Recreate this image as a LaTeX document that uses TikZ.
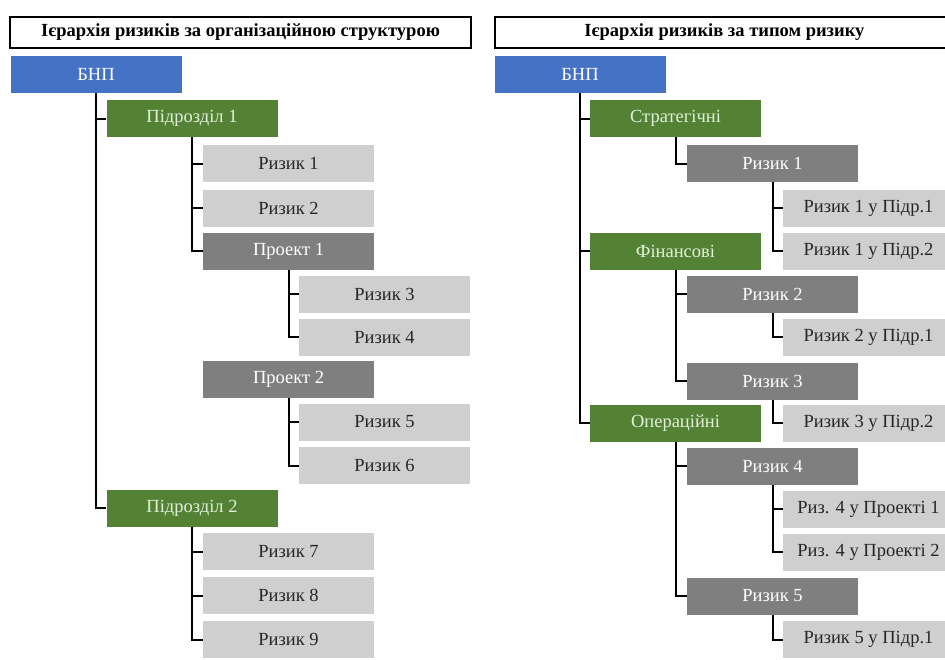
\documentclass[tikz,border=0pt]{standalone}
\usepackage{fontspec}
\setmainfont{Liberation Serif}
\definecolor{cblue}{HTML}{4472C4}
\definecolor{cgreen}{HTML}{548235}
\definecolor{cdark}{HTML}{7F7F7F}
\definecolor{clight}{HTML}{CFCFCF}
\definecolor{cgreentext}{HTML}{E2F0D9}
\tikzset{
  box/.style={rectangle, minimum width=171pt, minimum height=37pt, inner sep=0pt, anchor=center, font=\fontsize{18.5}{20}\selectfont},
  lvblue/.style={box, fill=cblue, text=white},
  lvgreen/.style={box, fill=cgreen, text=cgreentext},
  lvdark/.style={box, fill=cdark, text=white},
  lvlight/.style={box, fill=clight, text=black!85},
  titlebox/.style={rectangle, draw=black, line width=1.3pt, minimum height=31pt, inner sep=0pt, anchor=center},
  titletext/.style={font=\bfseries\fontsize{18.5}{20}\selectfont},
  link/.style={draw=black, line width=2pt},
}
\begin{document}
\begin{tikzpicture}[x=1pt,y=-1pt]
\useasboundingbox (0,0) rectangle (945,659);
\clip (0,0) rectangle (945,659);
% titles
\node[titlebox, titletext, minimum width=461pt] (t1) at (240.5,32.5) {Ієрархія ризиків за організаційною структурою};
\node[titlebox, minimum width=470pt] (t2) at (730,32.5) {};
\node[titletext] (t2t) at (724.5,32.5) {Ієрархія ризиків за типом ризику};
% left tree
\node[lvblue] (a0) at (96,74.5) {БНП};
\node[lvgreen] (a1) at (192,118.5) {Підрозділ 1};
\node[lvlight] (a2) at (288.5,163.5) {Ризик 1};
\node[lvlight] (a3) at (288.5,208) {Ризик 2};
\node[lvdark] (a4) at (288.5,251) {Проект 1};
\node[lvlight] (a5) at (384.5,294) {Ризик 3};
\node[lvlight] (a6) at (384.5,337) {Ризик 4};
\node[lvdark] (a7) at (288.5,379) {Проект 2};
\node[lvlight] (a8) at (384.5,422) {Ризик 5};
\node[lvlight] (a9) at (384.5,465.5) {Ризик 6};
\node[lvgreen] (a10) at (192,508) {Підрозділ 2};
\node[lvlight] (a11) at (288.5,551.5) {Ризик 7};
\node[lvlight] (a12) at (288.5,595.5) {Ризик 8};
\node[lvlight] (a13) at (288.5,639.5) {Ризик 9};
% right tree
\node[lvblue] (b0) at (580,74.5) {БНП};
\node[lvgreen] (b1) at (675.5,118.5) {Стратегічні};
\node[lvdark] (b2) at (772.5,163.5) {Ризик 1};
\node[lvlight] (b3) at (868.5,208) {Ризик 1 у Підр.1};
\node[lvlight] (b4) at (868.5,251) {Ризик 1 у Підр.2};
\node[lvgreen] (b5) at (675.5,251) {Фінансові};
\node[lvdark] (b6) at (772.5,294) {Ризик 2};
\node[lvlight] (b7) at (868.5,337) {Ризик 2 у Підр.1};
\node[lvdark] (b8) at (772.5,381) {Ризик 3};
\node[lvlight] (b9) at (868.5,423) {Ризик 3 у Підр.2};
\node[lvgreen] (b10) at (675.5,423) {Операційні};
\node[lvdark] (b11) at (772.5,466) {Ризик 4};
\node[lvlight] (b12) at (868.5,509) {Риз. 4 у Проекті 1};
\node[lvlight] (b13) at (868.5,552) {Риз. 4 у Проекті 2};
\node[lvdark] (b14) at (772.5,596) {Ризик 5};
\node[lvlight] (b15) at (868.5,639.5) {Ризик 5 у Підр.1};
% connectors
\foreach \p/\c in {a0/a1, a0/a10, a1/a2, a1/a3, a1/a4, a4/a5, a4/a6, a7/a8, a7/a9, a10/a11, a10/a12, a10/a13,
                   b0/b1, b0/b5, b0/b10, b1/b2, b2/b3, b2/b4, b5/b6, b5/b8, b6/b7, b8/b9, b10/b11, b10/b14, b11/b12, b11/b13, b14/b15}
  \draw[link] (\p.south) |- (\c.west);
\end{tikzpicture}
\end{document}
